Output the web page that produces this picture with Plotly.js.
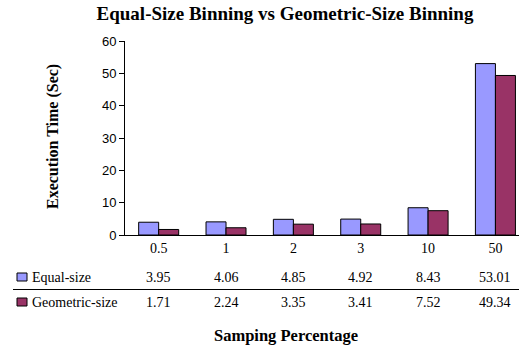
<!DOCTYPE html>
<html>
<head>
<meta charset="utf-8">
<script src="https://cdn.plot.ly/plotly-3.0.1.min.js"></script>
<style>
  html, body { margin: 0; padding: 0; background: #fff; }
  #chart { width: 519px; height: 346px; }
</style>
</head>
<body>
<div id="chart"></div>
<script>
// Sampling percentages (categories) and execution times in seconds
const samplingPct = ['0.5', '1', '2', '3', '10', '50'];
const equalSize = [3.95, 4.06, 4.85, 4.92, 8.43, 53.01];
const geometricSize = [1.71, 2.24, 3.35, 3.41, 7.52, 49.34];
const seriesNames = ['Equal-size', 'Geometric-size'];
const seriesColors = ['#9999FF', '#993366'];

const W = 519, H = 346;
const M = { l: 125, r: 0, t: 41, b: 111 };
const plotW = W - M.l - M.r, plotH = H - M.t - M.b;
// pixel -> paper helpers for the data table drawn under the plot
const px = x => (x - M.l) / plotW;
const py = y => (H - M.b - y) / plotH;

const serif = 'Liberation Serif, Times New Roman, serif';
const sans = 'Liberation Sans, Arial, sans-serif';

const series = [equalSize, geometricSize];
const traces = series.map((vals, i) => ({
  type: 'bar',
  name: seriesNames[i],
  x: samplingPct,
  y: vals,
  marker: { color: seriesColors[i], line: { color: '#000', width: 1 } },
  hoverinfo: 'skip'
}));

const annotations = [];
const shapes = [];

// y-axis title
annotations.push({
  text: '<b>Execution Time (Sec)</b>', xref: 'paper', yref: 'paper',
  x: px(53), y: py(137), textangle: -90, showarrow: false,
  xanchor: 'center', yanchor: 'middle',
  font: { family: serif, size: 16, color: '#000' }
});
// x-axis title
annotations.push({
  text: '<b>Samping Percentage</b>', xref: 'paper', yref: 'paper',
  x: px(286), y: py(335), showarrow: false,
  xanchor: 'center', yanchor: 'middle',
  font: { family: serif, size: 16.5, color: '#000' }
});

// data table rows: legend key, series name and values
const rowY = [277, 302];
series.forEach((vals, i) => {
  const yc = rowY[i];
  shapes.push({
    type: 'rect', xref: 'paper', yref: 'paper',
    x0: px(17), x1: px(27), y0: py(yc - 4), y1: py(yc + 4),
    fillcolor: seriesColors[i], line: { color: '#000', width: 1 }
  });
  annotations.push({
    text: seriesNames[i], xref: 'paper', yref: 'paper',
    x: px(30), y: py(yc), showarrow: false,
    xanchor: 'left', yanchor: 'middle',
    font: { family: serif, size: 14, color: '#000' }
  });
  vals.forEach((v, j) => {
    annotations.push({
      text: v.toFixed(2), xref: 'x', yref: 'paper',
      x: j, y: py(yc), showarrow: false,
      xanchor: 'center', yanchor: 'middle',
      font: { family: serif, size: 14, color: '#000' }
    });
  });
});
// separator line between the two table rows
shapes.push({
  type: 'line', xref: 'paper', yref: 'paper',
  x0: px(13), x1: px(W), y0: py(289.5), y1: py(289.5),
  line: { color: '#000', width: 1 }
});

const layout = {
  width: W, height: H,
  margin: M,
  paper_bgcolor: '#fff', plot_bgcolor: '#fff',
  showlegend: false,
  barmode: 'group',
  bargap: 0.406,
  bargroupgap: 0,
  title: {
    text: '<b>Equal-Size Binning vs Geometric-Size Binning</b>',
    xref: 'container', yref: 'container',
    x: 285 / W, y: 1 - 13.5 / H, xanchor: 'center', yanchor: 'middle',
    font: { family: serif, size: 19, color: '#000' }
  },
  xaxis: {
    type: 'category',
    range: [-0.5, plotW / 67.35 - 0.5],
    showline: true, linecolor: '#000', linewidth: 1,
    ticks: '', showgrid: false, zeroline: false,
    tickfont: { family: serif, size: 14, color: '#000' },
    fixedrange: true
  },
  yaxis: {
    range: [0, 60], dtick: 10,
    showline: true, linecolor: '#000', linewidth: 1,
    ticks: 'outside', ticklen: 5, tickcolor: '#000',
    showgrid: false, zeroline: false,
    tickfont: { family: sans, size: 13, color: '#000' },
    fixedrange: true
  },
  annotations: annotations,
  shapes: shapes
};

Plotly.newPlot('chart', traces, layout, { staticPlot: true, displayModeBar: false });
</script>
</body>
</html>
